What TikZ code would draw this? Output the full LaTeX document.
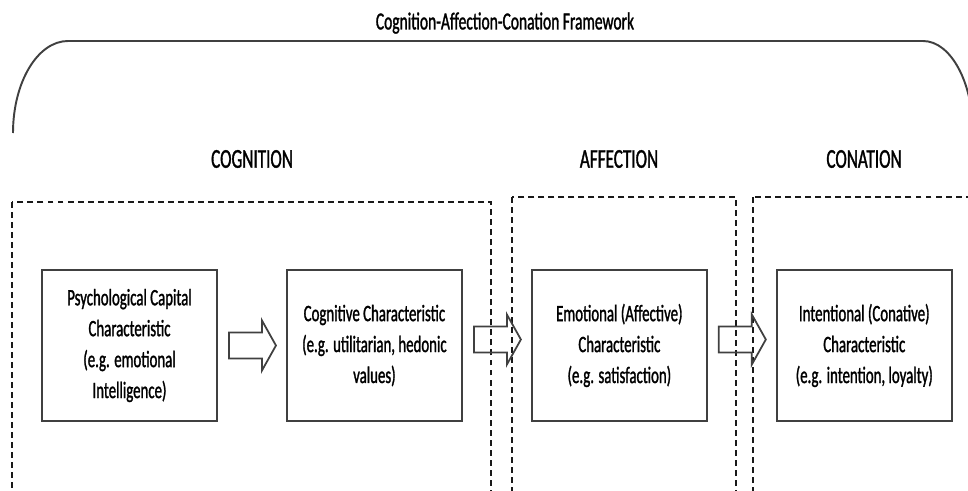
\documentclass[tikz,border=0pt]{standalone}
\usepackage{fontspec}
\setmainfont{Carlito}[FakeStretch=0.63,FakeBold=1.2]
\usetikzlibrary{positioning,calc}

\newcommand{\fatarrow}[3][0]{%
  \draw[fat] ($(#2.east)+(0.22,#1+0.26)$) -- ($(#3.west)+(-0.48,#1+0.26)$)
    -- ($(#3.west)+(-0.48,#1+0.5)$) -- ($(#3.west)+(-0.2,#1)$)
    -- ($(#3.west)+(-0.48,#1-0.5)$) -- ($(#3.west)+(-0.48,#1-0.26)$)
    -- ($(#2.east)+(0.22,#1-0.26)$) -- cycle;}

\begin{document}
\begin{tikzpicture}[
    box/.style={draw=black!75, line width=1.1pt, minimum width=3.5cm,
      minimum height=3.02cm, align=center,
      font=\fontsize{13.4}{17.6}\selectfont},
    zone/.style={draw=black!90, line width=0.75pt,
      dash pattern=on 3.4pt off 2.3pt},
    fat/.style={draw=black!75, line width=1pt},
    head/.style={font=\fontsize{15.5}{18}\selectfont}]
  \useasboundingbox (0,0) rectangle (19.36,9.8);
  \clip (0,0) rectangle (19.36,9.8);

  \node [font=\fontsize{14}{16}\selectfont] (title) at (10.1,9.34)
    {Cognition-Affection-Conation Framework};
  \draw [black!75, line width=1.1pt] (0.26,7.14)
    arc [start angle=180, end angle=90, x radius=1.1, y radius=1.84]
    -- (18.46,8.98)
    arc [start angle=90, end angle=0, x radius=1.0, y radius=1.84];

  \draw [zone] (0.24,5.76) rectangle (9.82,-0.3);
  \draw [zone] (10.24,5.86) rectangle (14.72,-0.3);
  \draw [zone] (15.06,5.86) rectangle (19.8,-0.3);

  \node [head] (cgn) at (5.04,6.62) {COGNITION};
  \node [head] (aff) at (12.38,6.62) {AFFECTION};
  \node [head] (cnt) at (17.28,6.62) {CONATION};

  \node [box] (psy) at (2.59,2.89)
    {Psychological Capital\\Characteristic\\(e.g. emotional\\Intelligence)};
  \node [box, right=1.36cm of psy] (cog)
    {Cognitive Characteristic\\(e.g. utilitarian, hedonic\\values)};
  \node [box, right=1.36cm of cog] (emo)
    {Emotional (Affective)\\Characteristic\\(e.g. satisfaction)};
  \node [box, right=1.36cm of emo] (con)
    {Intentional (Conative)\\Characteristic\\(e.g. intention, loyalty)};

  \fatarrow{psy}{cog}
  \fatarrow[0.12]{cog}{emo}
  \fatarrow[0.12]{emo}{con}
\end{tikzpicture}
\end{document}
